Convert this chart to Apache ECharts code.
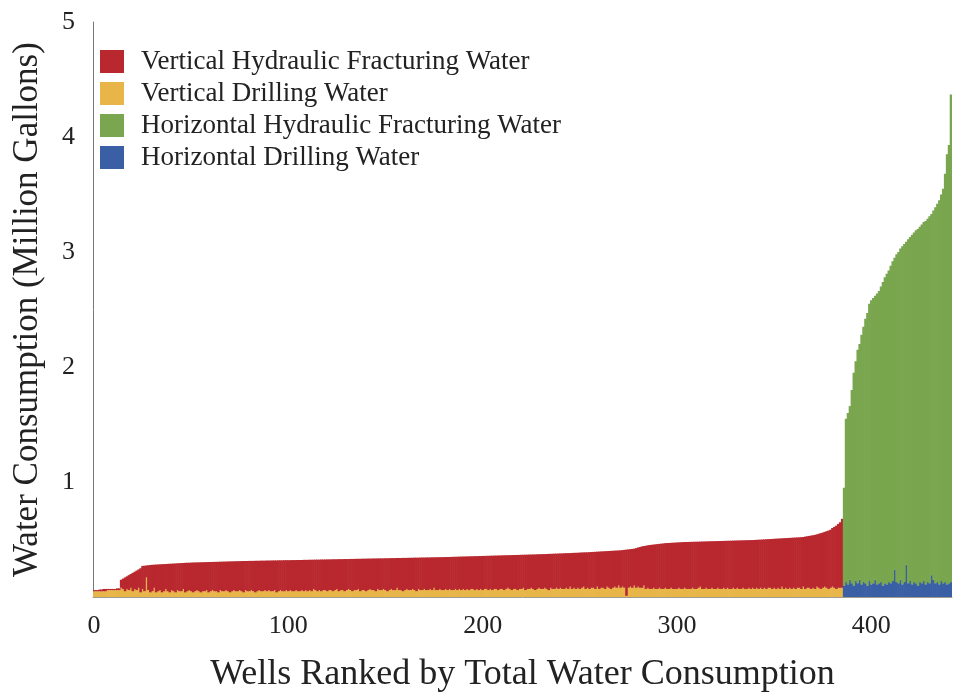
<!DOCTYPE html>
<html>
<head>
<meta charset="utf-8">
<title>Water Consumption per Well</title>
<script src="https://cdn.jsdelivr.net/npm/echarts@6/dist/echarts.min.js"></script>
<style>
  html, body { margin: 0; padding: 0; background: #ffffff; }
  #chart { width: 953px; height: 698px; }
</style>
</head>
<body>
<div id="chart"></div>
<script>
// Series names (legend order)
const seriesNames = [
  'Vertical Hydraulic Fracturing Water',
  'Vertical Drilling Water',
  'Horizontal Hydraulic Fracturing Water',
  'Horizontal Drilling Water'
];

// Vertical wells: total water per well (million gallons), ranked ascending
const verticalTotal = [
  0.06,0.06,0.06,0.065,0.065,0.07,0.07,0.07,0.07,0.07,
  0.07,0.07,0.075,0.075,0.15,0.16,0.17,0.18,0.19,0.2,
  0.21,0.22,0.23,0.24,0.25,0.27,0.272,0.274,0.276,0.278,
  0.28,0.281,0.282,0.283,0.284,0.285,0.286,0.287,0.288,0.289,
  0.29,0.291,0.292,0.293,0.294,0.295,0.296,0.297,0.298,0.298,
  0.299,0.3,0.3,0.301,0.301,0.302,0.302,0.303,0.303,0.304,
  0.304,0.305,0.305,0.306,0.306,0.307,0.307,0.308,0.308,0.309,
  0.309,0.31,0.31,0.311,0.311,0.312,0.312,0.313,0.313,0.313,
  0.314,0.314,0.314,0.315,0.315,0.315,0.316,0.316,0.316,0.317,
  0.317,0.317,0.318,0.318,0.318,0.319,0.319,0.319,0.32,0.32,
  0.32,0.32,0.321,0.321,0.321,0.322,0.322,0.322,0.323,0.323,
  0.323,0.324,0.324,0.324,0.325,0.325,0.325,0.326,0.326,0.326,
  0.327,0.327,0.327,0.328,0.328,0.328,0.329,0.329,0.329,0.33,
  0.33,0.33,0.331,0.331,0.331,0.332,0.332,0.332,0.333,0.333,
  0.333,0.334,0.334,0.334,0.335,0.335,0.335,0.336,0.336,0.336,
  0.337,0.337,0.337,0.338,0.338,0.338,0.339,0.339,0.339,0.34,
  0.34,0.34,0.341,0.341,0.341,0.342,0.342,0.342,0.343,0.343,
  0.343,0.344,0.344,0.344,0.345,0.345,0.345,0.346,0.346,0.346,
  0.347,0.347,0.348,0.348,0.349,0.349,0.35,0.35,0.351,0.351,
  0.352,0.352,0.353,0.353,0.354,0.354,0.355,0.355,0.356,0.356,
  0.357,0.357,0.358,0.358,0.359,0.359,0.36,0.36,0.361,0.361,
  0.362,0.362,0.363,0.363,0.364,0.364,0.365,0.365,0.366,0.366,
  0.367,0.367,0.368,0.368,0.369,0.369,0.37,0.37,0.371,0.372,
  0.372,0.373,0.373,0.374,0.375,0.375,0.376,0.377,0.377,0.378,
  0.379,0.379,0.38,0.381,0.381,0.382,0.383,0.384,0.384,0.385,
  0.386,0.387,0.388,0.388,0.389,0.39,0.391,0.392,0.393,0.394,
  0.395,0.396,0.397,0.398,0.399,0.4,0.401,0.402,0.403,0.404,
  0.405,0.406,0.408,0.41,0.412,0.414,0.416,0.418,0.42,0.425,
  0.43,0.435,0.44,0.443,0.446,0.449,0.452,0.454,0.456,0.458,
  0.46,0.462,0.464,0.466,0.468,0.469,0.47,0.471,0.472,0.473,
  0.474,0.475,0.476,0.477,0.478,0.478,0.479,0.479,0.48,0.48,
  0.481,0.481,0.482,0.482,0.483,0.483,0.484,0.484,0.485,0.485,
  0.486,0.486,0.487,0.487,0.488,0.488,0.489,0.489,0.49,0.49,
  0.491,0.491,0.492,0.492,0.493,0.493,0.494,0.494,0.495,0.495,
  0.496,0.497,0.498,0.499,0.5,0.501,0.502,0.503,0.504,0.505,
  0.506,0.507,0.508,0.509,0.51,0.511,0.512,0.513,0.514,0.515,
  0.516,0.517,0.518,0.519,0.52,0.522,0.525,0.528,0.531,0.534,
  0.537,0.54,0.545,0.55,0.555,0.56,0.566,0.572,0.578,0.585,
  0.6,0.61,0.62,0.635,0.65,0.68
];

// Vertical wells: drilling water per well (million gallons)
const verticalDrilling = [
  .05,.05,.05,.05,.05,.05,.05,.06,.06,.06,
  .06,.06,.06,.06,.08,.07,.05,.07,.06,.08,
  .05,.07,.06,.08,.04,.07,.05,.17,.06,.04,
  .05,.08,.04,.05,.06,.04,.05,.07,.05,.04,
  .06,.05,.04,.06,.05,.05,.07,.04,.05,.06,
  .05,.04,.05,.06,.05,.04,.05,.05,.06,.04,
  .05,.06,.05,.05,.04,.06,.05,.05,.06,.05,
  .04,.05,.06,.05,.05,.06,.05,.04,.06,.05,
  .05,.06,.05,.04,.05,.06,.05,.05,.06,.05,
  .06,.05,.05,.06,.04,.05,.06,.05,.05,.06,
  .05,.06,.05,.05,.06,.05,.05,.06,.05,.06,
  .05,.06,.05,.07,.06,.05,.06,.05,.06,.06,
  .05,.06,.06,.05,.06,.07,.05,.06,.06,.05,
  .06,.07,.06,.05,.06,.06,.07,.05,.06,.06,
  .05,.06,.07,.06,.06,.05,.07,.06,.06,.07,
  .06,.05,.06,.07,.06,.06,.08,.06,.06,.05,
  .06,.07,.06,.06,.07,.06,.05,.07,.06,.06,
  .07,.06,.06,.07,.06,.08,.06,.06,.07,.06,
  .06,.07,.06,.07,.06,.06,.07,.06,.07,.06,
  .07,.06,.07,.06,.07,.07,.06,.07,.06,.07,
  .06,.07,.07,.06,.07,.06,.07,.07,.06,.07,
  .07,.06,.07,.08,.07,.06,.07,.07,.06,.07,
  .07,.08,.06,.07,.07,.08,.07,.06,.07,.08,
  .07,.07,.08,.07,.06,.08,.07,.07,.08,.07,
  .08,.07,.07,.08,.07,.09,.07,.08,.07,.08,
  .07,.08,.09,.07,.08,.07,.08,.08,.07,.09,
  .07,.08,.08,.07,.09,.08,.07,.08,.09,.08,
  .10,.08,.09,.08,.01,.08,.09,.08,.10,.08,
  .09,.08,.08,.10,.07,.08,.07,.07,.08,.07,
  .07,.08,.07,.07,.08,.07,.07,.08,.07,.07,
  .07,.08,.07,.07,.08,.07,.07,.07,.08,.07,
  .07,.08,.09,.07,.07,.08,.07,.07,.08,.07,
  .07,.08,.07,.07,.08,.07,.08,.07,.07,.08,
  .07,.08,.07,.07,.08,.07,.07,.08,.07,.08,
  .07,.08,.07,.08,.07,.08,.07,.08,.08,.07,
  .08,.07,.08,.07,.09,.07,.08,.07,.08,.07,
  .08,.07,.08,.08,.07,.09,.07,.08,.08,.07,
  .08,.07,.09,.08,.07,.08,.09,.08,.07,.08,
  .09,.08,.07,.08,.08,.08
];

// Horizontal wells: total water per well (million gallons), ranked ascending
const horizontalTotal = [
  0.95,1.55,1.60,1.66,1.80,1.95,2.05,2.15,
  2.20,2.28,2.35,2.42,2.47,2.55,2.58,2.60,
  2.62,2.64,2.66,2.70,2.74,2.78,2.81,2.84,
  2.88,2.92,2.95,2.98,3.00,3.03,3.05,3.07,
  3.09,3.11,3.13,3.15,3.17,3.19,3.20,3.22,
  3.24,3.26,3.27,3.29,3.31,3.33,3.36,3.39,
  3.42,3.45,3.50,3.55,3.68,3.85,3.93,4.37
];

// Horizontal wells: drilling water per well (million gallons)
const horizontalDrilling = [
  .10,.13,.11,.15,.12,.10,.14,.12,
  .15,.11,.13,.12,.10,.14,.11,.12,
  .15,.11,.12,.13,.10,.12,.11,.13,
  .12,.14,.24,.13,.12,.15,.11,.13,
  .28,.12,.14,.11,.13,.12,.10,.13,
  .12,.14,.11,.13,.12,.19,.15,.12,
  .13,.11,.14,.12,.13,.11,.12,.13
];

const yTickLabels = ['1', '2', '3', '4', '5'];

const colors = {
  vFrac: '#b8282e',
  vDrill: '#e8b548',
  hFrac: '#79a64e',
  hDrill: '#3a5fa4'
};

// Build per-well stacked series (fracturing = total minus drilling)
const nV = verticalTotal.length;
const nH = horizontalTotal.length;
const wellRanks = [];
for (let i = 0; i < nV + nH; i++) wellRanks.push(String(i));

const gapV = new Array(nV).fill('-');
const gapH = new Array(nH).fill('-');
const round3 = v => Math.round(v * 1000) / 1000;

const vDrillData = verticalDrilling.concat(gapH);
const vFracData = verticalTotal.map((t, i) => round3(t - verticalDrilling[i])).concat(gapH);
const hDrillData = gapV.concat(horizontalDrilling);
const hFracData = gapV.concat(horizontalTotal.map((t, i) => round3(t - horizontalDrilling[i])));

const serifFont = '"Liberation Serif", "DejaVu Serif", serif';

// Bars are a touch wider than a category slot so neighbours overlap without seams
function barSeries(name, data, color) {
  return {
    name: name,
    type: 'bar',
    stack: 'wells',
    data: data,
    barWidth: 2.6,
    itemStyle: { color: color },
    emphasis: { disabled: true }
  };
}

const chart = echarts.init(document.getElementById('chart'), null, { renderer: 'canvas' });

chart.setOption({
  animation: false,
  backgroundColor: '#ffffff',
  grid: { left: 93, right: 1, top: 22, bottom: 99, containLabel: false },
  legend: {
    data: seriesNames,
    orient: 'vertical',
    left: 100,
    top: 48,
    padding: 0,
    itemWidth: 24,
    itemHeight: 23,
    itemGap: 5,
    icon: 'rect',
    textStyle: {
      fontFamily: serifFont,
      fontSize: 27,
      lineHeight: 27,
      color: '#222',
      padding: [0, 0, 0, 12]
    }
  },
  xAxis: {
    type: 'category',
    data: wellRanks,
    boundaryGap: true,
    name: 'Wells Ranked by Total Water Consumption',
    nameLocation: 'middle',
    nameGap: 60,
    nameTextStyle: { fontFamily: serifFont, fontSize: 36, color: '#222' },
    axisLine: { show: true, lineStyle: { color: '#a09a90', width: 1 } },
    axisTick: { show: false },
    axisLabel: {
      interval: 99,
      margin: 16,
      fontFamily: serifFont,
      fontSize: 26,
      color: '#222'
    },
    splitLine: { show: false }
  },
  yAxis: {
    type: 'value',
    min: 0,
    max: 5,
    interval: 1,
    name: 'Water Consumption (Million Gallons)',
    nameLocation: 'middle',
    nameGap: 48,
    nameTextStyle: { fontFamily: serifFont, fontSize: 35, color: '#222' },
    axisLine: { show: true, lineStyle: { color: '#777', width: 1 } },
    axisTick: { show: false },
    axisLabel: {
      margin: 18,
      fontFamily: serifFont,
      fontSize: 26,
      color: '#222',
      formatter: v => (v === 0 ? '' : yTickLabels[v - 1])
    },
    splitLine: { show: false }
  },
  series: [
    barSeries(seriesNames[1], vDrillData, colors.vDrill),
    barSeries(seriesNames[0], vFracData, colors.vFrac),
    barSeries(seriesNames[3], hDrillData, colors.hDrill),
    barSeries(seriesNames[2], hFracData, colors.hFrac)
  ]
});
</script>
</body>
</html>
